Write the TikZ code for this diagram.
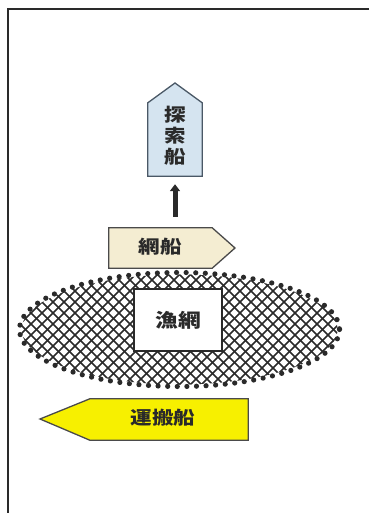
\documentclass[tikz,border=0pt]{standalone}
\usepackage{fontspec}
\newfontfamily\jp[FakeStretch=1.2]{Noto Sans CJK JP}
\usetikzlibrary{arrows.meta}
\definecolor{probefill}{HTML}{D5E4F0}
\definecolor{probeline}{HTML}{4A5866}
\definecolor{netfill}{HTML}{F4EDD2}
\definecolor{carryfill}{HTML}{F7F000}
\definecolor{ink}{HTML}{2A2A2A}
\begin{document}
\begin{tikzpicture}[x=1pt,y=-1pt,
  body/.style={inner sep=0pt, minimum width=#1},
  shipline/.style={line width=1.3pt, draw=ink!85, line join=miter},
  label/.style={font=\jp\bfseries\fontsize{18}{20}\selectfont, text=ink}]
\useasboundingbox (0,0) rectangle (369,513);
% frame
\draw[line width=1.2pt, ink] (369,9) -- (8,9) -- (8,513);

% net ellipse with crosshatch
\begin{scope}
  \clip (179.5,329.5) ellipse [x radius=158, y radius=55];
  \foreach \i in {-24,...,24} {
    \draw[line width=1.7pt, ink] (179.5+11*\i-130,329.5-130) -- ++(260,260);
    \draw[line width=1.7pt, ink] (179.5+11*\i-130,329.5+130) -- ++(260,-260);
  }
\end{scope}
\draw[line width=5.2pt, ink, dash pattern=on 0pt off 9.6pt, line cap=round]
  (179.5,329.5) ellipse [x radius=160, y radius=57];

\node[draw=ink, fill=white, line width=1.6pt, minimum width=88pt, minimum height=62pt,
  font=\jp\bfseries\fontsize{19}{22}\selectfont, text=ink] (gyomo) at (178,320) {漁網};

% probe ship (pointing up)
\node[body=54pt, minimum height=73pt] (tansaku) at (175,139.5) {};
\filldraw[shipline, fill=probefill, draw=probeline]
  (tansaku.south west) -- (tansaku.north west) -- (175,83) -- (tansaku.north east)
  -- (tansaku.south east) -- cycle;
\node[label, align=center, font=\jp\bfseries\fontsize{18}{21}\selectfont] (tansakutext) at (175,136) {探\\索\\船};

% net ship (pointing right)
\node[body=103pt, minimum height=40pt] (ami) at (160.5,248) {};
\filldraw[shipline, fill=netfill]
  (ami.north west) -- (ami.north east) -- (235,248) -- (ami.south east)
  -- (ami.south west) -- cycle;
\node[label] (amitext) at (160,247) {網船};

% carrier ship (pointing left)
\node[body=158pt, minimum height=41pt] (unpan) at (169,419.5) {};
\filldraw[shipline, fill=carryfill]
  (unpan.north east) -- (unpan.north west) -- (40,419) -- (unpan.south west)
  -- (unpan.south east) -- cycle;
\node[label] (unpantext) at (163,418) {運搬船};

% arrow
\draw[line width=5pt, ink, shorten <=11pt, shorten >=8pt,
  -{Triangle[length=7pt,width=10pt]}] (tansaku.south |- ami.north) -- (tansaku.south);
\end{tikzpicture}
\end{document}
